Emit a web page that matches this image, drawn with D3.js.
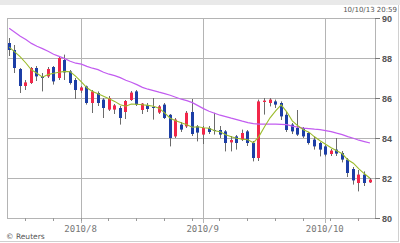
<!DOCTYPE html>
<html>
<head>
<meta charset="utf-8">
<script src="https://cdn.jsdelivr.net/npm/d3@7"></script>
<style>
  body { margin: 0; background: #fff; }
  svg { display: block; }
</style>
</head>
<body>
<div id="chart"></div>
<script>
// trading days, 2010-07-14 .. 2010-10-13
const dates = [
  "07/14","07/15","07/16","07/19","07/20","07/21","07/22","07/23","07/26","07/27","07/28","07/29","07/30",
  "08/02","08/03","08/04","08/05","08/06","08/09","08/10","08/11","08/12","08/13","08/16","08/17","08/18",
  "08/19","08/20","08/23","08/24","08/25","08/26","08/27","08/30","08/31",
  "09/01","09/02","09/03","09/06","09/07","09/08","09/09","09/10","09/13","09/14","09/15","09/16","09/17",
  "09/20","09/21","09/22","09/23","09/24","09/27","09/28","09/29","09/30",
  "10/01","10/04","10/05","10/06","10/07","10/08","10/11","10/12","10/13"
];
const open = [
  88.75,88.40,87.45,86.60,86.75,87.50,87.07,87.08,87.55,87.00,87.90,87.33,86.90,
  86.37,86.58,85.75,86.25,85.92,85.42,85.42,85.50,85.30,85.90,86.33,85.40,85.65,
  85.55,85.27,85.67,85.16,84.08,84.67,84.58,85.30,84.58,
  84.17,84.50,84.40,84.40,84.33,83.78,84.08,83.92,84.33,83.75,83.00,85.80,85.75,
  85.83,85.75,85.16,84.67,84.50,84.50,84.25,83.92,83.75,
  83.58,83.20,83.42,83.25,82.92,82.45,81.75,82.17,81.78
];
const high = [
  89.00,88.65,87.50,86.90,87.55,87.60,87.25,87.55,87.60,88.10,88.17,87.40,87.00,
  86.60,86.62,86.40,86.33,86.00,86.10,85.70,85.60,85.90,86.35,86.40,85.75,85.75,
  86.00,85.65,85.75,85.20,85.00,84.80,85.35,85.95,84.65,
  84.60,84.60,85.26,84.60,84.40,84.10,84.15,84.42,84.40,83.85,85.92,86.00,86.00,
  85.92,85.83,85.30,84.75,85.40,84.55,84.30,84.08,83.80,
  83.65,83.45,84.00,83.35,83.00,82.55,82.40,82.33,82.00
];
const low = [
  88.10,87.25,86.25,86.40,86.70,86.85,86.33,87.00,86.67,86.90,86.90,86.67,85.95,
  86.25,85.67,85.25,85.60,85.00,85.35,85.20,84.67,84.95,85.85,85.60,85.20,85.30,
  84.92,85.20,84.95,83.58,84.00,84.30,84.50,84.10,83.83,
  83.70,84.20,84.17,84.00,83.33,83.33,83.42,83.85,83.60,82.83,82.85,85.17,85.58,
  85.50,84.90,84.30,84.20,84.10,84.00,83.67,83.42,83.08,
  83.08,83.10,83.10,82.78,82.05,81.67,81.33,81.60,81.75
];
const close = [
  88.40,87.50,86.60,86.78,87.50,87.08,87.00,87.45,86.83,88.00,87.28,86.75,86.40,
  86.53,85.75,86.33,85.75,85.50,86.00,85.63,85.00,85.85,86.27,85.67,85.72,85.45,
  85.50,85.58,85.00,84.00,84.92,84.42,85.26,84.20,84.27,
  84.50,84.30,84.35,84.17,83.75,83.90,83.75,84.25,83.75,83.00,85.83,85.87,85.92,
  85.67,85.08,84.40,84.33,84.17,84.08,83.75,83.58,83.42,
  83.17,83.37,83.22,82.92,82.25,81.88,82.17,81.75,81.92
];
// short moving average (green)
const maShort = [
  88.54,88.31,88.06,87.75,87.41,87.24,87.04,87.17,87.24,87.29,87.33,87.31,87.08,
  86.81,86.51,86.33,86.21,86.09,85.96,85.83,85.66,85.59,85.70,85.69,85.66,85.63,
  85.59,85.49,85.26,84.99,84.86,84.76,84.66,84.54,84.56,
  84.51,84.49,84.36,84.31,84.16,84.06,83.99,83.94,83.91,83.76,84.08,84.56,85.01,
  85.36,85.66,85.31,84.86,84.61,84.41,84.29,84.06,83.86,
  83.69,83.51,83.36,83.21,82.91,82.74,82.46,82.21,81.99
];
// long moving average (purple)
const maLong = [
  89.49,89.29,89.09,88.92,88.73,88.59,88.47,88.34,88.19,88.08,87.97,87.84,87.74,
  87.69,87.58,87.49,87.42,87.29,87.19,87.12,87.02,86.89,86.79,86.67,86.53,86.44,
  86.37,86.29,86.22,86.14,86.04,85.94,85.87,85.77,85.62,
  85.47,85.34,85.24,85.14,85.07,84.99,84.92,84.84,84.77,84.72,84.69,84.69,84.69,
  84.69,84.68,84.67,84.59,84.54,84.49,84.47,84.44,84.42,
  84.37,84.32,84.24,84.17,84.07,83.99,83.89,83.82,83.75
];
const yTicks = [80, 82, 84, 86, 88, 90];
const weekTicks = ["07/19","07/26","08/02","08/09","08/16","08/23","08/30","09/06","09/13",
                   "09/20","09/27","10/04","10/11"];
const monthLines = ["08/02", "09/01", "10/01"];
const monthLabels = ["2010/8", "2010/9", "2010/10"];
const stamp = "10/10/13 20:59";

const W = 400, H = 243;
const plot = { left: 7, right: 375, top: 18, bottom: 218 };

const svg = d3.select('#chart').append('svg')
  .attr('width', W).attr('height', H);

// header strip and outer frame
svg.append('rect').attr('x', 0).attr('y', 0).attr('width', W).attr('height', 5)
  .attr('fill', '#e9e9e9');
svg.append('text')
  .attr('x', 397).attr('y', 11.5)
  .attr('text-anchor', 'end')
  .style('font', '7px "DejaVu Sans"')
  .style('fill', '#555')
  .text(stamp);
svg.append('line').attr('x1', 398.5).attr('x2', 398.5).attr('y1', 5).attr('y2', 242)
  .attr('stroke', '#d0d0d0');
svg.append('line').attr('x1', 0).attr('x2', 399).attr('y1', 241.5).attr('y2', 241.5)
  .attr('stroke', '#d0d0d0');

const x = d3.scalePoint().domain(dates).range([9.2, 370.0]);
const y = d3.scaleLinear().domain([80, 90]).range([plot.bottom, plot.top]);

const crisp = v => Math.round(v) + 0.5;

// grid
svg.append('g').selectAll('line.h')
  .data(yTicks).join('line')
  .attr('x1', plot.left).attr('x2', plot.right)
  .attr('y1', d => crisp(y(d))).attr('y2', d => crisp(y(d)))
  .attr('stroke', '#b4b4b4');

svg.append('g').selectAll('line.v')
  .data(monthLines).join('line')
  .attr('x1', d => crisp(x(d) - 0.8)).attr('x2', d => crisp(x(d) - 0.8))
  .attr('y1', plot.top).attr('y2', plot.bottom + 5)
  .attr('stroke', '#b4b4b4');

svg.append('line')
  .attr('x1', crisp(plot.left)).attr('x2', crisp(plot.left))
  .attr('y1', plot.top).attr('y2', plot.bottom)
  .attr('stroke', '#b4b4b4');
svg.append('line')
  .attr('x1', crisp(plot.right)).attr('x2', crisp(plot.right))
  .attr('y1', plot.top).attr('y2', plot.bottom)
  .attr('stroke', '#b4b4b4');

// week ticks under the axis
svg.append('g').selectAll('line')
  .data(weekTicks).join('line')
  .attr('x1', d => crisp(x(d) - 0.8)).attr('x2', d => crisp(x(d) - 0.8))
  .attr('y1', plot.bottom).attr('y2', plot.bottom + 3)
  .attr('stroke', '#999');

// right value axis
svg.append('g').selectAll('line')
  .data(yTicks).join('line')
  .attr('x1', plot.right).attr('x2', plot.right + 5)
  .attr('y1', d => crisp(y(d))).attr('y2', d => crisp(y(d)))
  .attr('stroke', '#777');
svg.append('g').selectAll('text')
  .data(yTicks).join('text')
  .attr('x', plot.right + 7).attr('y', d => y(d) + 3.5)
  .style('font', 'bold 9px "Liberation Sans"')
  .style('fill', '#555')
  .text(d => d);

// month labels
svg.append('g').selectAll('text')
  .data(monthLines).join('text')
  .attr('x', d => x(d) - 0.8).attr('y', 232)
  .attr('text-anchor', 'middle')
  .style('font', '9px "DejaVu Sans Mono"')
  .style('fill', '#777')
  .text((d, i) => monthLabels[i]);

svg.append('text')
  .attr('x', 6).attr('y', 239)
  .style('font', '7.5px "DejaVu Sans"')
  .style('fill', '#555')
  .text('\u00a9 Reuters');

// candles
const candles = dates.map((d, i) => ({ date: d, o: open[i], h: high[i], l: low[i], c: close[i] }));
const bodyW = 3;

const g = svg.append('g');
g.selectAll('line.wick')
  .data(candles).join('line')
  .attr('x1', d => crisp(x(d.date) - 0.5)).attr('x2', d => crisp(x(d.date) - 0.5))
  .attr('y1', d => y(d.h)).attr('y2', d => y(d.l))
  .attr('stroke', '#6b6b6b');
g.selectAll('rect')
  .data(candles).join('rect')
  .attr('x', d => Math.round(x(d.date) - bodyW / 2))
  .attr('width', bodyW)
  .attr('y', d => y(Math.max(d.o, d.c)))
  .attr('height', d => Math.max(1, Math.abs(y(d.o) - y(d.c))))
  .attr('fill', d => d.c >= d.o ? '#f2274a' : '#1c3ea6');

// moving averages
const line = d3.line().x((d, i) => x(dates[i])).y(d => y(d));
svg.append('path').datum(maLong)
  .attr('d', line)
  .attr('fill', 'none').attr('stroke', '#c25cf0').attr('stroke-width', 1.2);
svg.append('path').datum(maShort)
  .attr('d', line)
  .attr('fill', 'none').attr('stroke', '#9cbc2c').attr('stroke-width', 1.1);
</script>
</body>
</html>
